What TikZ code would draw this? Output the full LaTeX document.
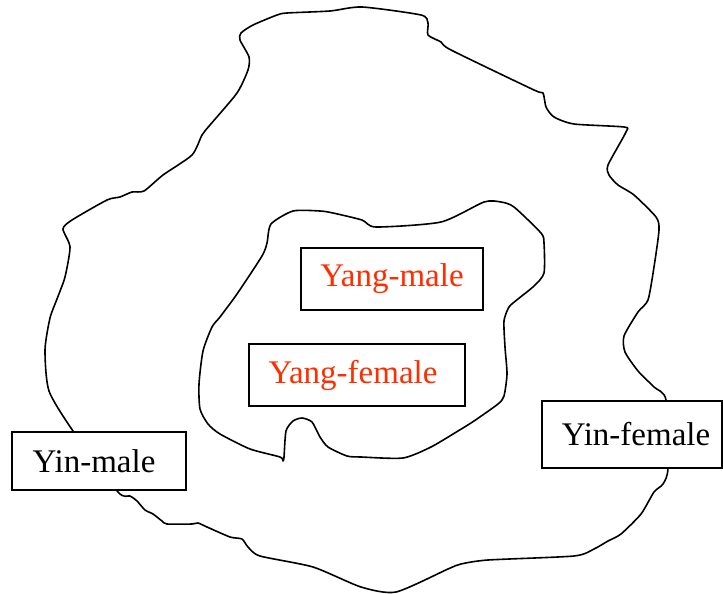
\documentclass[tikz,border=0pt]{standalone}
\usepackage{fontspec}
\setmainfont{Liberation Serif}
\usepackage{tikz}
\definecolor{yangred}{RGB}{255,45,0}

\begin{document}
\begin{tikzpicture}[x=1pt, y=-1pt, line width=1.6pt,
    every node/.style={font=\fontsize{33}{39}\selectfont},
    tag/.style={draw, fill=white, inner sep=0pt, line width=1.7pt}]
			\useasboundingbox (0,0) rectangle (723,594);
			
			% outer region
			\draw[line join=round] plot[smooth cycle, tension=0.4] coordinates {
				(73,431) (49,391) (45,350) (50,318) (57,299) (65,277) (70,247) (63,229)
				(72,220) (107,200) (120,197) (132,192) (144,191) (163,175) (192,155)
				(202,135) (210,125) (237,93) (248,70) (249,57) (240,40) (241,33)
				(253,25) (277,15) (287,13) (330,11) (362,7) (421,15) (428,23) (428,35)
				(441,42) (451,50) (534,90) (543,93) (546,107) (554,117) (574,124)
				(624,127) (626,132) (608,165) (609,175) (618,185) (634,195) (656,217)
				(659,230) (654,267) (648,300) (638,312) (624,336) (625,352) (638,371)
				(654,387) (666,400) (668,468) (663,484) (654,492) (641,514) (621,534)
				(608,541) (594,549) (574,556) (488,560) (461,564) (448,569) (396,592)
				(361,587) (313,567) (260,556) (248,547) (242,539) (230,537) (207,527)
				(198,523) (192,524) (167,524) (162,521) (153,514) (145,510) (137,501)
				(130,496) (118,492)};
			
			% inner region
			\draw[line join=round] plot[smooth cycle, tension=0.4] coordinates {
				(271,224) (293,211) (320,211) (333,213) (362,220) (376,227) (441,222)
				(484,202) (501,202) (514,207) (541,233) (544,243) (544,273) (534,286)
				(518,299) (509,307) (504,321) (505,347) (507,374) (504,396) (498,404)
				(474,421) (458,431) (431,447) (403,458) (361,457) (347,456) (328,447)
				(320,437) (312,422) (302,418) (293,421) (286,431) (284,457) (283,461)
				(280,457) (250,449) (220,434) (208,424) (200,409) (199,384) (203,351)
				(212,327) (220,317) (237,294) (262,256) (267,243)};
			
			\node[tag, minimum width=182pt, minimum height=62pt, text=yangred] (yangmale) at (392,279) {Yang-male};
			\node[tag, minimum width=216pt, minimum height=62pt, text=yangred] (yangfemale) at (357,375) {Yang-female\hspace*{8pt}};
			\node[tag, minimum width=174pt, minimum height=58pt] (yinmale) at (99,461) {Yin-male\hspace*{10pt}};
			\node[tag, minimum width=180pt, minimum height=67pt] (yinfemale) at (632,434.5) {\hspace*{8pt}Yin-female};
			
		\end{tikzpicture}
\end{document}
